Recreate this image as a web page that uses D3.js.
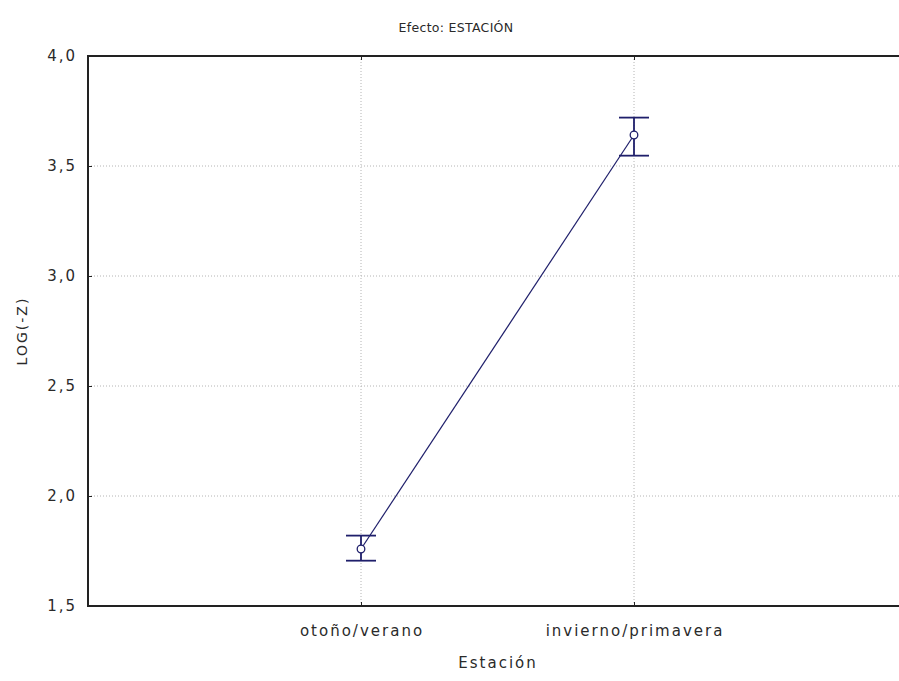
<!doctype html>
<html>
  <head>
    <script src="https://cdnjs.cloudflare.com/ajax/libs/d3/7.8.5/d3.min.js"></script>
    <style>
      body { margin: 0; background: #fff; }
      text { font-family: "DejaVu Sans", Verdana, sans-serif; fill: #2a2a2a; }
      .grid line { stroke: #b4b4b4; stroke-dasharray: 1,2; }
    </style>
  </head>
  <body>
    <svg id="chart" width="899" height="681"></svg>
    <script>
      // data
      var categories = ["otoño/verano", "invierno/primavera"];
      var means = [1.759, 3.641];
      var upper = [1.820, 3.720];
      var lower = [1.706, 3.547];
      var yTicks = [1.5, 2.0, 2.5, 3.0, 3.5, 4.0];

      var svg = d3.select("#chart");
      // plot box runs a bit past the right edge of the window, like the original
      var pLeft = 88, pTop = 56, pRight = 907, pBottom = 606;

      var x = d3.scalePoint().domain(categories).range([pLeft, pRight]).padding(1);
      var y = d3.scaleLinear().domain([1.5, 4.0]).range([pBottom, pTop]);
      var fmt = d => d3.format(".1f")(d).replace(".", ",");

      // grid
      var grid = svg.append("g").attr("class", "grid");
      grid.selectAll("line.h")
        .data(yTicks.filter(d => d > 1.5 && d < 4.0))
        .enter().append("line")
          .attr("x1", pLeft).attr("x2", pRight)
          .attr("y1", d => y(d)).attr("y2", d => y(d));
      grid.selectAll("line.v")
        .data(categories)
        .enter().append("line")
          .attr("x1", d => x(d)).attr("x2", d => x(d))
          .attr("y1", pTop).attr("y2", pBottom);

      // axes, ticks drawn inward
      svg.append("g")
        .attr("transform", `translate(${pLeft},0)`)
        .call(d3.axisRight(y).tickValues(yTicks).tickSize(4).tickFormat(""))
        .call(g => g.select(".domain").remove());
      svg.append("g")
        .attr("transform", `translate(0,${pBottom})`)
        .call(d3.axisTop(x).tickSize(4).tickFormat(""))
        .call(g => g.select(".domain").remove());
      svg.append("g")
        .attr("transform", `translate(0,${pTop})`)
        .call(d3.axisBottom(x).tickSize(4).tickFormat(""))
        .call(g => g.select(".domain").remove());
      svg.selectAll(".tick line").attr("stroke", "#222");

      // frame
      svg.append("path")
        .attr("d", `M${pRight},${pTop}H${pLeft}V${pBottom}H${pRight}`)
        .attr("fill", "none").attr("stroke", "#222").attr("stroke-width", 2);

      // tick labels
      svg.selectAll("text.ylab")
        .data(yTicks)
        .enter().append("text")
          .attr("x", pLeft - 11).attr("y", d => y(d) + 5)
          .attr("text-anchor", "end").attr("font-size", 15)
          .attr("letter-spacing", 2)
          .text(fmt);
      svg.selectAll("text.xlab")
        .data(categories)
        .enter().append("text")
          .attr("x", d => x(d) + 1).attr("y", pBottom + 30)
          .attr("text-anchor", "middle").attr("font-size", 15)
          .attr("letter-spacing", 2)
          .text(d => d);

      // titles
      svg.append("text").attr("x", 456).attr("y", 32)
        .attr("text-anchor", "middle").attr("font-size", 12.5)
        .attr("letter-spacing", 0.3)
        .text("Efecto: ESTACIÓN");
      svg.append("text").attr("x", 498).attr("y", 668)
        .attr("text-anchor", "middle").attr("font-size", 15)
        .attr("letter-spacing", 2)
        .text("Estación");
      svg.append("text")
        .attr("transform", `translate(27,${(pTop + pBottom) / 2}) rotate(-90)`)
        .attr("text-anchor", "middle").attr("font-size", 14)
        .attr("letter-spacing", 2)
        .text("LOG(-Z)");

      // mean line
      var navy = "#1f1f6b";
      var pts = categories.map((c, i) => ({c: c, m: means[i], hi: upper[i], lo: lower[i]}));
      svg.append("path")
        .datum(pts)
        .attr("fill", "none").attr("stroke", navy).attr("stroke-width", 1.2)
        .attr("d", d3.line().x(d => x(d.c)).y(d => y(d.m)));

      // error bars
      var eb = svg.selectAll("g.eb").data(pts).enter().append("g")
        .attr("stroke", navy).attr("stroke-width", 1.8);
      eb.append("line")
        .attr("x1", d => x(d.c)).attr("x2", d => x(d.c))
        .attr("y1", d => y(d.hi)).attr("y2", d => y(d.lo));
      eb.append("line")
        .attr("x1", d => x(d.c) - 15).attr("x2", d => x(d.c) + 15)
        .attr("y1", d => y(d.hi)).attr("y2", d => y(d.hi));
      eb.append("line")
        .attr("x1", d => x(d.c) - 15).attr("x2", d => x(d.c) + 15)
        .attr("y1", d => y(d.lo)).attr("y2", d => y(d.lo));
      eb.append("circle")
        .attr("cx", d => x(d.c)).attr("cy", d => y(d.m)).attr("r", 3.8)
        .attr("fill", "#fff").attr("stroke-width", 1.3);
    </script>
  </body>
</html>
